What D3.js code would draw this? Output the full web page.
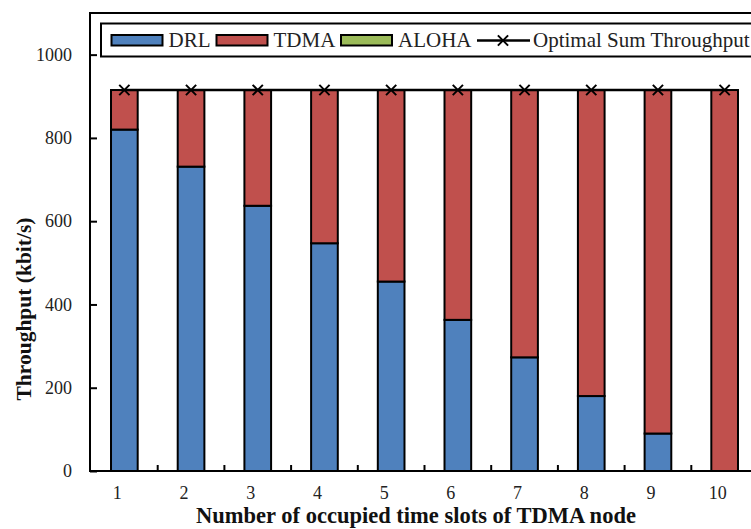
<!DOCTYPE html>
<html>
<head>
<meta charset="utf-8">
<script src="https://cdn.jsdelivr.net/npm/d3@7"></script>
<style>
  html, body { margin: 0; padding: 0; background: #fff; overflow: hidden; }
  svg { display: block; }
  svg text { font-family: "Liberation Serif", "Times New Roman", serif; }
</style>
</head>
<body>
<svg id="chart"></svg>
<script>
const slots = ["1", "2", "3", "4", "5", "6", "7", "8", "9", "10"];
const drl = [820, 731, 637, 547, 455, 363, 273, 180, 90, 0];
const tdma = [95, 184, 278, 368, 460, 552, 642, 735, 825, 915];
const aloha = [0, 0, 0, 0, 0, 0, 0, 0, 0, 0];
const optimal = [915, 915, 915, 915, 915, 915, 915, 915, 915, 915];
const yTicks = [0, 200, 400, 600, 800, 1000];

const seriesNames = ["DRL", "TDMA", "ALOHA"];
const colors = { DRL: "#4F81BD", TDMA: "#C0504D", ALOHA: "#9BBB59" };

const width = 751;
const height = 529;
const plot = { left: 90, right: 758, top: 13, bottom: 471 };

const svg = d3.select("#chart")
    .attr("width", width)
    .attr("height", height);

const x = d3.scaleBand()
    .domain(slots)
    .range([91, plot.right])
    .paddingInner(0.6)
    .paddingOuter(0.3);

const y = d3.scaleLinear()
    .domain([0, 1100])
    .range([plot.bottom, plot.top]);

const rows = slots.map((s, i) => ({ slot: s, DRL: drl[i], TDMA: tdma[i], ALOHA: aloha[i] }));
const stacked = d3.stack().keys(seriesNames)(rows);

// bars
svg.append("g")
    .selectAll("g")
    .data(stacked)
    .join("g")
    .attr("fill", d => colors[d.key])
    .selectAll("rect")
    .data(d => d.filter(p => p[1] - p[0] > 0))
    .join("rect")
    .attr("x", d => x(d.data.slot))
    .attr("y", d => y(d[1]))
    .attr("width", x.bandwidth())
    .attr("height", d => y(d[0]) - y(d[1]))
    .attr("stroke", "#000")
    .attr("stroke-width", 2);

// optimal sum throughput line
const cx = s => x(s) + x.bandwidth() / 2;
svg.append("path")
    .datum(slots.map((s, i) => [cx(s), y(optimal[i])]))
    .attr("fill", "none")
    .attr("stroke", "#000")
    .attr("stroke-width", 2.5)
    .attr("d", d3.line());

const cross = d3.symbol().type(d3.symbolX).size(70);
svg.append("g")
    .selectAll("path")
    .data(slots)
    .join("path")
    .attr("transform", (s, i) => `translate(${cx(s)},${y(optimal[i])})`)
    .attr("d", cross)
    .attr("fill", "none")
    .attr("stroke", "#000")
    .attr("stroke-width", 2);

// frame
svg.append("rect")
    .attr("x", plot.left)
    .attr("y", plot.top)
    .attr("width", plot.right - plot.left)
    .attr("height", plot.bottom - plot.top)
    .attr("fill", "none")
    .attr("stroke", "#000")
    .attr("stroke-width", 2);

// y axis (inward ticks)
const yAxis = svg.append("g")
    .attr("transform", `translate(${plot.left},0)`)
    .call(d3.axisRight(y).tickValues(yTicks).tickSize(7).tickFormat(d3.format("d")));
yAxis.select(".domain").remove();
yAxis.selectAll("line").attr("stroke", "#000").attr("stroke-width", 2);
yAxis.selectAll("text")
    .attr("x", -18)
    .attr("text-anchor", "end")
    .attr("font-size", 18)
    .attr("font-family", "Liberation Serif, serif")
    .attr("fill", "#222");

// x axis: separators between categories, labels at centres
const step = x.step();
svg.append("g")
    .selectAll("line")
    .data(slots.slice(0, -1))
    .join("line")
    .attr("x1", s => cx(s) + step / 2)
    .attr("x2", s => cx(s) + step / 2)
    .attr("y1", plot.bottom)
    .attr("y2", plot.bottom - 6)
    .attr("stroke", "#000")
    .attr("stroke-width", 2);

svg.append("g")
    .selectAll("text")
    .data(slots)
    .join("text")
    .attr("x", s => cx(s) - 7)
    .attr("y", 499)
    .attr("text-anchor", "middle")
    .attr("font-size", 18)
    .attr("fill", "#222")
    .text(s => s);

// axis titles
svg.append("text")
    .attr("x", 416)
    .attr("y", 523)
    .attr("text-anchor", "middle")
    .attr("font-size", 22.5)
    .attr("font-weight", "bold")
    .attr("fill", "#111")
    .text("Number of occupied time slots of TDMA node");

svg.append("text")
    .attr("transform", "translate(31,309) rotate(-90)")
    .attr("text-anchor", "middle")
    .attr("font-size", 21.5)
    .attr("font-weight", "bold")
    .attr("fill", "#111")
    .text("Throughput (kbit/s)");

// legend
const legend = svg.append("g");
legend.append("rect")
    .attr("x", 101)
    .attr("y", 23.5)
    .attr("width", 700)
    .attr("height", 33)
    .attr("fill", "#fff")
    .attr("stroke", "#000")
    .attr("stroke-width", 2);

const legendX = [111.5, 216.5, 341];
seriesNames.forEach((name, i) => {
    legend.append("rect")
        .attr("x", legendX[i])
        .attr("y", 35)
        .attr("width", 51)
        .attr("height", 10.5)
        .attr("fill", colors[name])
        .attr("stroke", "#000")
        .attr("stroke-width", 2);
    legend.append("text")
        .attr("x", legendX[i] + 57)
        .attr("y", 47)
        .attr("font-size", 21)
        .attr("fill", "#222")
        .text(name);
});

legend.append("line")
    .attr("x1", 477).attr("x2", 530)
    .attr("y1", 40.5).attr("y2", 40.5)
    .attr("stroke", "#000")
    .attr("stroke-width", 2.5);
legend.append("path")
    .attr("transform", "translate(503,40.5)")
    .attr("d", cross)
    .attr("fill", "none")
    .attr("stroke", "#000")
    .attr("stroke-width", 2);
legend.append("text")
    .attr("x", 533)
    .attr("y", 47)
    .attr("font-size", 21)
    .attr("fill", "#222")
    .text("Optimal Sum Throughput");
</script>
</body>
</html>
